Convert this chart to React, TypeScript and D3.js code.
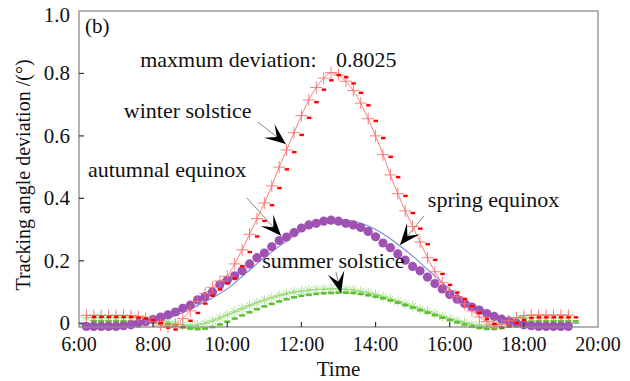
import React from "react";
import * as d3 from "d3";

// sample times (hours), 12 min apart
const hours = [
  6.2, 6.4, 6.6, 6.8, 7.0, 7.2, 7.4, 7.6, 7.8, 8.0, 8.2, 8.4, 8.6, 8.8, 9.0, 9.2, 9.4, 9.6, 9.8, 10.0,
  10.2, 10.4, 10.6, 10.8, 11.0, 11.2, 11.4, 11.6, 11.8, 12.0, 12.2, 12.4, 12.6, 12.8, 13.0, 13.2, 13.4,
  13.6, 13.8, 14.0, 14.2, 14.4, 14.6, 14.8, 15.0, 15.2, 15.4, 15.6, 15.8, 16.0, 16.2, 16.4, 16.6, 16.8,
  17.0, 17.2, 17.4, 17.6, 17.8, 18.0, 18.2, 18.4, 18.6, 18.8, 19.0, 19.2,
];
// dash markers sit one step later
const dashHours = [
  6.4, 6.6, 6.8, 7.0, 7.2, 7.4, 7.6, 7.8, 8.0, 8.2, 8.4, 8.6, 8.8, 9.0, 9.2, 9.4, 9.6, 9.8, 10.0, 10.2,
  10.4, 10.6, 10.8, 11.0, 11.2, 11.4, 11.6, 11.8, 12.0, 12.2, 12.4, 12.6, 12.8, 13.0, 13.2, 13.4, 13.6,
  13.8, 14.0, 14.2, 14.4, 14.6, 14.8, 15.0, 15.2, 15.4, 15.6, 15.8, 16.0, 16.2, 16.4, 16.6, 16.8, 17.0,
  17.2, 17.4, 17.6, 17.8, 18.0, 18.2, 18.4, 18.6, 18.8, 19.0, 19.2, 19.4,
];

const winterPlus = [
  0.025, 0.025, 0.025, 0.025, 0.025, 0.025, 0.024, 0.022, 0.016, 0.006, -0.006, -0.012, -0.004, 0.015,
  0.04, 0.07, 0.095, 0.115, 0.135, 0.15, 0.19, 0.235, 0.285, 0.335, 0.385, 0.44, 0.5, 0.555, 0.61,
  0.665, 0.715, 0.755, 0.785, 0.8025, 0.795, 0.775, 0.745, 0.705, 0.655, 0.6, 0.54, 0.475, 0.415, 0.36,
  0.31, 0.26, 0.21, 0.165, 0.13, 0.105, 0.085, 0.062, 0.04, 0.02, 0.005, -0.006, -0.004, 0.008, 0.018,
  0.024, 0.026, 0.026, 0.026, 0.026, 0.026, 0.026,
];
const winterDash = [
  0.02, 0.02, 0.02, 0.02, 0.02, 0.02, 0.018, 0.015, 0.01, 0.0, -0.014, -0.02, -0.012, 0.008, 0.033,
  0.063, 0.088, 0.108, 0.128, 0.143, 0.183, 0.228, 0.278, 0.328, 0.378, 0.433, 0.493, 0.548, 0.603,
  0.658, 0.708, 0.748, 0.778, 0.795, 0.788, 0.768, 0.738, 0.698, 0.648, 0.593, 0.533, 0.468, 0.408,
  0.353, 0.303, 0.253, 0.203, 0.158, 0.123, 0.098, 0.078, 0.055, 0.033, 0.013, -0.002, -0.013, -0.011,
  0.001, 0.011, 0.017, 0.019, 0.019, 0.019, 0.019, 0.019, 0.019,
];
const summerStar = [
  0.018, 0.018, 0.018, 0.018, 0.018, 0.018, 0.018, 0.017, 0.016, 0.013, 0.009, 0.004, -0.001, -0.005,
  -0.007, -0.005, 0.0, 0.008, 0.017, 0.027, 0.037, 0.047, 0.057, 0.066, 0.074, 0.082, 0.089, 0.095, 0.1,
  0.103, 0.106, 0.108, 0.109, 0.11, 0.11, 0.109, 0.106, 0.102, 0.097, 0.092, 0.085, 0.078, 0.07, 0.062,
  0.054, 0.046, 0.038, 0.03, 0.022, 0.015, 0.008, 0.002, -0.003, -0.006, -0.006, -0.003, 0.003, 0.009,
  0.014, 0.017, 0.018, 0.018, 0.018, 0.018, 0.018, 0.018,
];
const summerDash = [
  0.006, 0.006, 0.006, 0.006, 0.006, 0.006, 0.006, 0.005, 0.004, 0.001, -0.003, -0.008, -0.013, -0.017,
  -0.019, -0.017, -0.012, -0.004, 0.005, 0.015, 0.025, 0.035, 0.045, 0.054, 0.062, 0.07, 0.077, 0.083,
  0.088, 0.091, 0.094, 0.096, 0.097, 0.098, 0.098, 0.097, 0.094, 0.09, 0.085, 0.08, 0.073, 0.066, 0.058,
  0.05, 0.042, 0.034, 0.026, 0.018, 0.01, 0.003, -0.004, -0.01, -0.015, -0.018, -0.018, -0.015, -0.009,
  -0.003, 0.002, 0.005, 0.006, 0.006, 0.006, 0.006, 0.006, 0.006,
];
const autumnDots = [
  -0.01, -0.01, -0.01, -0.01, -0.01, -0.008, -0.005, 0.0, 0.005, 0.012, 0.02, 0.027, 0.036, 0.048, 0.058,
  0.075, 0.085, 0.1, 0.123, 0.138, 0.152, 0.168, 0.19, 0.21, 0.225, 0.245, 0.265, 0.276, 0.29, 0.305,
  0.315, 0.32, 0.327, 0.33, 0.327, 0.32, 0.315, 0.307, 0.294, 0.277, 0.257, 0.242, 0.222, 0.202, 0.182,
  0.168, 0.148, 0.127, 0.11, 0.092, 0.077, 0.063, 0.052, 0.042, 0.031, 0.022, 0.013, 0.007, 0.0, -0.005,
  -0.008, -0.01, -0.01, -0.01, -0.01, -0.01,
];
const springHours = [
  6.0, 6.5, 7.0, 7.5, 8.0, 8.5, 9.0, 9.5, 10.0, 10.5, 11.0, 11.5, 12.0, 12.5, 13.0, 13.5, 14.0, 14.5,
  15.0, 15.5, 16.0, 16.5, 17.0, 17.5, 18.0, 18.5, 19.0, 19.5,
];
const springLine = [
  -0.005, -0.005, -0.005, -0.003, 0.005, 0.02, 0.045, 0.075, 0.11, 0.16, 0.21, 0.255, 0.295, 0.322,
  0.332, 0.324, 0.3, 0.262, 0.215, 0.162, 0.11, 0.068, 0.036, 0.015, 0.003, 0.0, 0.0, 0.0,
];

const xTicks = [6, 8, 10, 12, 14, 16, 18, 20];
const xTickLabels = ["6:00", "8:00", "10:00", "12:00", "14:00", "16:00", "18:00", "20:00"];
const yTicks = [0, 0.2, 0.4, 0.6, 0.8, 1.0];
const yTickLabels = ["0", "0.2", "0.4", "0.6", "0.8", "1.0"];

// annotation text and arrows, in data units
const notes = [
  { text: "maxmum deviation:", h: 7.65, v: 0.821 },
  { text: "0.8025", h: 12.93, v: 0.821 },
  { text: "winter solstice", h: 7.21, v: 0.657 },
  { text: "autumnal equinox", h: 6.24, v: 0.468 },
  { text: "spring equinox", h: 15.41, v: 0.372 },
  { text: "summer solstice", h: 10.94, v: 0.177 },
];
const arrows = [
  { h0: 10.83, v0: 0.644, h1: 11.58, v1: 0.574 },
  { h0: 10.53, v0: 0.401, h1: 11.45, v1: 0.28 },
  { h0: 15.31, v0: 0.344, h1: 14.66, v1: 0.251 },
  { h0: 12.93, v0: 0.164, h1: 13.07, v1: 0.097 },
];

const W = 630;
const H = 381;
const left = 79;
const right = 598;
const top = 11;
const bottom = 327;
const serif = { fontFamily: '"Liberation Serif", "DejaVu Serif", serif' };

const x = d3.scaleLinear().domain([6, 20]).range([left, right]);
const y = d3.scaleLinear().domain([-0.012, 1.0]).range([bottom, top]);

const lineOf = (xs: number[], ys: number[]) =>
  d3
    .line<number>()
    .x((_, i) => x(xs[i]))
    .y((d) => y(d))
    .curve(d3.curveMonotoneX)(ys) || "";

const Arrow = ({ a }: { a: (typeof arrows)[number] }) => {
  const x0 = x(a.h0), y0 = y(a.v0), x1 = x(a.h1), y1 = y(a.v1);
  const ang = (Math.atan2(y1 - y0, x1 - x0) * 180) / Math.PI;
  const L = 21;
  const Wd = 17;
  return (
    <g>
      <line x1={x0} y1={y0} x2={x1} y2={y1} stroke="#888" strokeWidth={1} />
      <path
        transform={`translate(${x1},${y1}) rotate(${ang})`}
        d={`M0,0 L${-L},${-Wd / 2} L${-L * 0.55},0 L${-L},${Wd / 2} Z`}
        fill="#000"
      />
    </g>
  );
};

export default function App() {
  const starArms = [0, 45, 90, 135];
  return (
    <svg
      width={W}
      height={H}
      style={{ position: "absolute", left: 0, top: 0, background: "#fff" }}
    >
      <rect x={0} y={0} width={W} height={H} fill="#fff" />

      {/* series lines */}
      <path d={lineOf(springHours, springLine)} fill="none" stroke="#6f86dc" strokeWidth={1.1} />
      <path d={lineOf(hours, summerStar)} fill="none" stroke="#8fd36a" strokeWidth={1} />
      <path d={lineOf(hours, winterPlus)} fill="none" stroke="#ff7b7b" strokeWidth={1} />

      {/* summer solstice markers */}
      <g stroke="#9bd97c" strokeWidth={0.8}>
        {summerStar.map((v, i) => (
          <g key={i} transform={`translate(${x(hours[i])},${y(v)})`}>
            {starArms.map((r) => (
              <line key={r} x1={-5} y1={0} x2={5} y2={0} transform={`rotate(${r})`} />
            ))}
          </g>
        ))}
      </g>
      <g fill="#5fbf33">
        {summerDash.map((v, i) => (
          <rect key={i} x={x(dashHours[i]) - 3} y={y(v) - 1.3} width={6} height={2.6} />
        ))}
      </g>

      {/* autumnal equinox */}
      <g fill="#a052b4">
        {autumnDots.map((v, i) => (
          <circle key={i} cx={x(hours[i])} cy={y(v)} r={4.6} />
        ))}
      </g>

      {/* winter solstice markers */}
      <g stroke="#ff6e6e" strokeWidth={0.9}>
        {winterPlus.map((v, i) => (
          <g key={i} transform={`translate(${x(hours[i])},${y(v)})`}>
            <line x1={-6} y1={0} x2={6} y2={0} />
            <line x1={0} y1={-6} x2={0} y2={6} />
          </g>
        ))}
      </g>
      <g fill="#f00">
        {winterDash.map((v, i) => (
          <rect key={i} x={x(dashHours[i]) - 2} y={y(v) - 1.2} width={4.5} height={2.4} />
        ))}
      </g>

      {/* frame and ticks */}
      <rect x={left} y={top} width={right - left} height={bottom - top} fill="none" stroke="#8a8a8a" strokeWidth={1.3} />
      <g style={serif} fill="#111">
        {xTicks.map((t, i) => (
          <g key={t}>
            {i > 0 && i < xTicks.length - 1 && (
              <line x1={x(t)} x2={x(t)} y1={bottom} y2={bottom - 5} stroke="#333" strokeWidth={1.2} />
            )}
            <text x={x(t)} y={351} textAnchor="middle" fontSize={20}>
              {xTickLabels[i]}
            </text>
          </g>
        ))}
        {yTicks.map((t, i) => (
          <g key={t}>
            {i < yTicks.length - 1 && (
              <line x1={left} x2={left + 5} y1={y(t)} y2={y(t)} stroke="#333" strokeWidth={1.2} />
            )}
            <text x={70} y={Math.max(y(t) + 7, 22)} textAnchor="end" fontSize={21}>
              {yTickLabels[i]}
            </text>
          </g>
        ))}

        <text x={(left + right) / 2} y={376} textAnchor="middle" fontSize={21}>
          Time
        </text>
        <text
          transform={`translate(30,${(top + bottom) / 2 + 6}) rotate(-90)`}
          textAnchor="middle"
          fontSize={20}
        >
          Tracking angle deviation /(°)
        </text>
        <text x={85} y={33} fontSize={21}>
          (b)
        </text>

        {notes.map((n) => (
          <text key={n.text} x={x(n.h)} y={y(n.v)} fontSize={22}>
            {n.text}
          </text>
        ))}
      </g>
      {arrows.map((a, i) => (
        <Arrow key={i} a={a} />
      ))}
    </svg>
  );
}
